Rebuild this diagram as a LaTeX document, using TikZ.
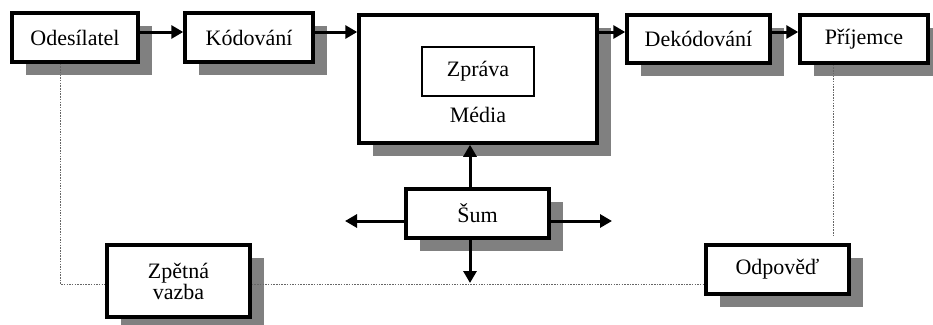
\documentclass[tikz,border=0pt]{standalone}
\usepackage{fontspec}
\setmainfont{Liberation Serif}
\usetikzlibrary{arrows.meta,shadows}
\begin{document}
\begin{tikzpicture}[x=1pt,y=-1pt,
  box/.style={draw=black,line width=3.5pt,fill=white,inner sep=0pt,align=center,
    font=\fontsize{22}{23}\selectfont,
    general shadow={fill=black!50,shadow xshift=14pt,shadow yshift=-13pt}},
  inbox/.style={draw=black,line width=2.5pt,fill=white,inner sep=0pt,
    font=\fontsize{22}{23}\selectfont},
  arr/.style={line width=3pt,-{Triangle[length=12pt,width=13pt]}},
  fbline/.style={black!60,line width=0.8pt,dash pattern=on 1.5pt off 1.2pt}]
\useasboundingbox (0,0) rectangle (933,324);
\coordinate (ytop) at (0,32);
\coordinate (xsum) at (470,0);
\coordinate (fbL) at (60,284);
\coordinate (fbR) at (833,235);
\coordinate (nl) at (345,221);
\coordinate (nr) at (612,221);
\coordinate (nd) at (470,283);
% nodes
\node[box,minimum width=126pt,minimum height=49pt] (odes) at (75,37.5) {Odesílatel};
\node[box,minimum width=128pt,minimum height=49pt] (kod) at (249,37.5) {Kódování};
\node[box,minimum width=238pt,minimum height=128pt] (media) at (478,79) {};
\node[inbox,minimum width=112pt,minimum height=49pt] (zprava) at (478,71.5) {Zpráva};
\node[font=\fontsize{22}{23}\selectfont,inner sep=0pt] (medtxt) at (478,115) {Média};
\node[box,minimum width=143pt,minimum height=48pt] (dek) at (698.5,39) {Dekódování};
\node[box,minimum width=128pt,minimum height=48pt] (prij) at (864,39) {Příjemce};
\node[box,minimum width=143pt,minimum height=49pt] (sum) at (477.5,213.5) {Šum};
\node[box,minimum width=143pt,minimum height=72pt] (zpet) at (178.5,281) {Zpětná\\[-2pt]vazba};
\node[box,minimum width=143pt,minimum height=49pt] (odp) at (777.5,269.5) {Odpověď};
% feedback lines
\draw[fbline] (odes.south -| fbL) -- (fbL) -- (zpet.west |- fbL);
\draw[fbline] (zpet.east |- fbL) -- (odp.west |- fbL);
\draw[fbline] (prij.south -| fbR) -- (fbR);
% arrows
\draw[arr] (odes.east |- ytop) -- (kod.west |- ytop);
\draw[arr] (kod.east |- ytop) -- (media.west |- ytop);
\draw[arr] (media.east |- ytop) -- (dek.west |- ytop);
\draw[arr] (dek.east |- ytop) -- (prij.west |- ytop);
\draw[arr] (sum.north -| xsum) -- (media.south -| xsum);
\draw[arr] (sum.west |- nl) -- (nl);
\draw[arr] (sum.east |- nr) -- (nr);
\draw[arr] (sum.south -| xsum) -- (nd);
\end{tikzpicture}
\end{document}
